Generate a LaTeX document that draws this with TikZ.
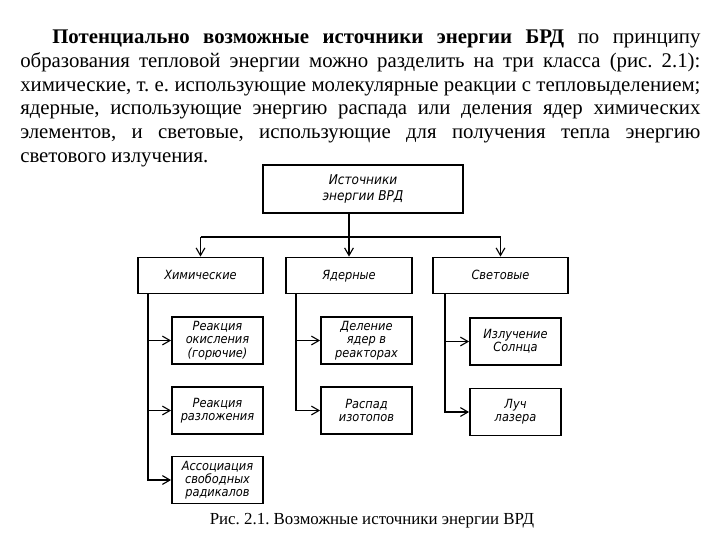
\documentclass[tikz,border=0pt]{standalone}
\usepackage{fontspec}
\setmainfont{Liberation Serif}
\newfontfamily\boxfont{DejaVu Sans Condensed}
\usetikzlibrary{arrows.meta}

\tikzset{
	block/.style={draw, line width=1.3pt, inner sep=0pt, align=center,
		font=\boxfont\itshape\fontsize{9}{9.4}\selectfont},
	topblock/.style={block, minimum width=5cm, minimum height=1.2cm,
		font=\boxfont\itshape\fontsize{9.6}{11}\selectfont},
	classblock/.style={block, minimum height=0.9cm, text height=6.8pt, text depth=1.6pt},
	srcblock/.style={block, minimum width=2.275cm, minimum height=1.175cm},
	link/.style={line width=0.9pt},
	feed/.style={link, -{Straight Barb[length=1.9mm, width=2.2mm, line width=0.8pt]}},
}

\begin{document}
\begin{tikzpicture}[x=0.025cm, y=-0.025cm]
			%%%%% START %%%%%
			\useasboundingbox (0, 0) rectangle (720, 540);
			
			\node[anchor=north west, inner sep=0pt, text width=17cm, align=justify,
				font=\frenchspacing\fontsize{14.8}{16.8}\selectfont] (text) at (20, 30) {%
				\hspace*{0.8cm}\textbf{Потенциально возможные источники энергии БРД} по принципу\linebreak
				образования тепловой энергии можно разделить на три класса (рис.~2.1):\linebreak
				химические, т.~е. использующие молекулярные реакции с тепловыделением;\linebreak
				ядерные, использующие энергию распада или деления ядер химических\linebreak
				элементов, и световые, использующие для получения тепла энергию\linebreak
				светового излучения.};
			
			\node[topblock] (top) at (363, 189) {Источники\\энергии ВРД};
			
			\node[classblock, minimum width=3.125cm] (chem) at (200.5, 275.5) {Химические};
			\node[classblock, minimum width=3.15cm] (nucl) at (349, 275.5) {Ядерные};
			\node[classblock, minimum width=3.375cm] (light) at (500.5, 275.5) {Световые};
			
			\node[srcblock] (oxid) at (217.5, 340.5) {Реакция\\окисления\\(горючие)};
			\node[srcblock] (decomp) at (217.5, 410.5) {Реакция\\разложения};
			\node[srcblock] (assoc) at (217.5, 480) {Ассоциация\\свободных\\радикалов};
			
			\node[srcblock] (fission) at (366.5, 340.5) {Деление\\ядер в\\реакторах};
			\node[srcblock] (isotope) at (366.5, 410.5) {Распад\\изотопов};
			
			\node[srcblock] (sun) at (515.5, 341.5) {Излучение\\Солнца};
			\node[srcblock] (laser) at (515.5, 412) {Луч\\лазера};
			
			%%%%% BUS %%%%%
			\coordinate (bus) at (0, 237);
			\draw[link] (bus -| chem.north) -- (bus -| light.north);
			\draw[feed] (top.south -| nucl.north) -- (nucl.north);
			\draw[feed] (bus -| chem.north) -- (chem.north);
			\draw[feed] (bus -| light.north) -- (light.north);
			
			%%%%% BRANCHES %%%%%
			\coordinate (chemT) at ([xshift=0.275cm]chem.south west);
			\coordinate (nuclT) at ([xshift=0.275cm]nucl.south west);
			\coordinate (lightT) at ([xshift=0.325cm]light.south west);
			
			\draw[feed] (chemT) |- (assoc.west);
			\draw[feed] (chemT |- oxid.west) -- (oxid.west);
			\draw[feed] (chemT |- decomp.west) -- (decomp.west);
			
			\draw[feed] (nuclT) |- (isotope.west);
			\draw[feed] (nuclT |- fission.west) -- (fission.west);
			
			\draw[feed] (lightT) |- (laser.west);
			\draw[feed] (lightT |- sun.west) -- (sun.west);
			
			\node[font=\frenchspacing\fontsize{12}{14}\selectfont, inner sep=0pt] (caption) at (372, 521)
				{Рис. 2.1. Возможные источники энергии ВРД};
			%%%%% END %%%%%
\end{tikzpicture}
\end{document}
